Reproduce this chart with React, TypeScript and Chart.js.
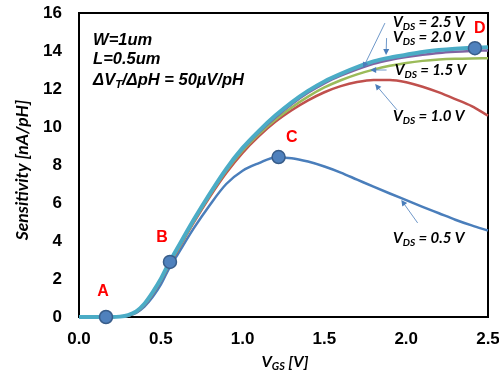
import React, { useEffect, useRef } from "react";
import { Chart, registerables } from "chart.js";
Chart.register(...registerables);

// Gate voltage grid (V)
const vgs = [0, 0.1, 0.2, 0.25, 0.3, 0.35, 0.4, 0.45, 0.5, 0.55, 0.6, 0.7, 0.8, 0.9, 1.0, 1.1, 1.2, 1.3, 1.4, 1.5, 1.6, 1.7, 1.8, 1.9, 2.0, 2.1, 2.2, 2.3, 2.4, 2.5];

// Sensitivity (nA/pH) per drain voltage
const vds25 = [0, 0, 0, 0.02, 0.1, 0.3, 0.7, 1.3, 2.0, 2.85, 3.6, 5.1, 6.5, 7.8, 8.9, 9.8, 10.6, 11.3, 11.9, 12.4, 12.8, 13.15, 13.45, 13.65, 13.8, 13.95, 14.05, 14.12, 14.17, 14.2];
const vds20 = [0, 0, 0, 0.02, 0.09, 0.29, 0.68, 1.27, 1.97, 2.8, 3.55, 5.05, 6.45, 7.74, 8.83, 9.72, 10.5, 11.2, 11.8, 12.3, 12.7, 13.04, 13.33, 13.53, 13.68, 13.8, 13.9, 13.96, 14.0, 14.03];
const vds15 = [0, 0, 0, 0.02, 0.08, 0.27, 0.66, 1.24, 1.94, 2.76, 3.5, 5.0, 6.4, 7.68, 8.75, 9.63, 10.38, 11.03, 11.6, 12.08, 12.46, 12.77, 13.02, 13.22, 13.37, 13.48, 13.55, 13.59, 13.61, 13.62];
const vds10 = [0, 0, 0, 0.02, 0.07, 0.25, 0.63, 1.2, 1.9, 2.72, 3.46, 4.95, 6.33, 7.58, 8.64, 9.52, 10.27, 10.88, 11.4, 11.83, 12.15, 12.37, 12.48, 12.48, 12.36, 12.12, 11.82, 11.47, 11.1, 10.6];
const vds05 = [0, 0, 0, 0.02, 0.07, 0.22, 0.55, 1.05, 1.7, 2.55, 3.25, 4.65, 5.9, 7.0, 7.7, 8.1, 8.4, 8.36, 8.18, 7.92, 7.6, 7.23, 6.86, 6.5, 6.15, 5.8, 5.46, 5.12, 4.82, 4.55];

// Marked operating points A–D
const markNames = ["A", "B", "C", "D"];
const markX = [0.165, 0.556, 1.22, 2.42];
const markY = [0, 2.9, 8.42, 14.15];
const markLabelX = [0.147, 0.507, 1.3, 2.45];
const markLabelY = [1.32, 4.2, 9.42, 15.2];

// Curve labels (data coordinates) and their arrows
const curveLabels = ["2.5", "2.0", "1.5", "1.0", "0.5"];
const curveLabelX = [1.92, 1.92, 1.93, 1.92, 1.92];
const curveLabelY = [15.53, 14.74, 13.0, 10.58, 4.16];
const arrowFromX = [1.87, 1.88, 1.88, 1.944, 2.07];
const arrowFromY = [15.47, 14.68, 13.0, 10.9, 4.95];
const arrowToX = [1.736, 1.877, 1.78, 1.81, 1.97];
const arrowToY = [13.1, 13.79, 13.0, 12.26, 6.16];

const xTicks = [0, 0.5, 1.0, 1.5, 2.0, 2.5];
const yTicks = [0, 2, 4, 6, 8, 10, 12, 14, 16];

type Part = { t: string; sub?: boolean };

function drawRich(ctx: CanvasRenderingContext2D, parts: Part[], x: number, y: number, size: number, family: string, align: "left" | "center" = "left") {
  const widths = parts.map((p) => {
    ctx.font = `italic bold ${p.sub ? size * 0.68 : size}px ${family}`;
    return ctx.measureText(p.t).width;
  });
  const total = widths.reduce((a, b) => a + b, 0);
  let cx = align === "center" ? x - total / 2 : x;
  ctx.textAlign = "left";
  ctx.textBaseline = "middle";
  parts.forEach((p, i) => {
    ctx.font = `italic bold ${p.sub ? size * 0.68 : size}px ${family}`;
    ctx.fillText(p.t, cx, y + (p.sub ? size * 0.3 : 0));
    cx += widths[i];
  });
}

function drawArrow(ctx: CanvasRenderingContext2D, x1: number, y1: number, x2: number, y2: number) {
  const ang = Math.atan2(y2 - y1, x2 - x1);
  const len = 6;
  ctx.strokeStyle = "#4A7EBB";
  ctx.fillStyle = "#4A7EBB";
  ctx.lineWidth = 0.8;
  ctx.beginPath();
  ctx.moveTo(x1, y1);
  ctx.lineTo(x2 - Math.cos(ang) * len * 0.8, y2 - Math.sin(ang) * len * 0.8);
  ctx.stroke();
  ctx.beginPath();
  ctx.moveTo(x2, y2);
  ctx.lineTo(x2 - len * Math.cos(ang) + 3 * Math.sin(ang), y2 - len * Math.sin(ang) - 3 * Math.cos(ang));
  ctx.lineTo(x2 - len * Math.cos(ang) - 3 * Math.sin(ang), y2 - len * Math.sin(ang) + 3 * Math.cos(ang));
  ctx.closePath();
  ctx.fill();
}

const framePlugin = {
  id: "frame",
  beforeDatasetsDraw(chart: any) {
    const { ctx, chartArea: a } = chart;
    ctx.save();
    ctx.strokeStyle = "#000";
    ctx.lineWidth = 2;
    ctx.strokeRect(a.left, a.top, a.right - a.left, a.bottom - a.top);
    ctx.restore();
  },
  afterDraw(chart: any) {
    const { ctx } = chart;
    const xs = chart.scales.x;
    const ys = chart.scales.y;
    const px = (v: number) => xs.getPixelForValue(v);
    const py = (v: number) => ys.getPixelForValue(v);
    ctx.save();
    ctx.fillStyle = "#000";
    ctx.textAlign = "left";
    ctx.textBaseline = "middle";
    const arial = "'Liberation Sans', Arial, sans-serif";
    ctx.font = `italic bold 16.5px ${arial}`;
    ctx.fillText("W=1um", px(0.086), py(14.58));
    ctx.fillText("L=0.5um", px(0.086), py(13.53));
    drawRich(ctx, [{ t: "ΔV" }, { t: "T", sub: true }, { t: "/ΔpH = 50µV/pH" }], px(0.086), py(12.47), 16.5, arial);

    for (let i = 0; i < curveLabels.length; i++) {
      drawArrow(ctx, px(arrowFromX[i]), py(arrowFromY[i]), px(arrowToX[i]), py(arrowToY[i]));
    }
    ctx.fillStyle = "#000";
    for (let i = 0; i < curveLabels.length; i++) {
      drawRich(ctx, [{ t: "V" }, { t: "DS", sub: true }, { t: ` = ${curveLabels[i]} V` }], px(curveLabelX[i]), py(curveLabelY[i]), 15, "Lato, sans-serif");
    }
    ctx.fillStyle = "#FF0000";
    ctx.font = `bold 16px ${arial}`;
    ctx.textAlign = "center";
    ctx.textBaseline = "middle";
    for (let i = 0; i < markNames.length; i++) {
      ctx.fillText(markNames[i], px(markLabelX[i]), py(markLabelY[i]));
    }
    ctx.fillStyle = "#000";
    drawRich(ctx, [{ t: "V" }, { t: "GS", sub: true }, { t: " [V]" }], 285, 362, 16, "Lato, sans-serif", "center");
    ctx.save();
    ctx.translate(22, 170);
    ctx.rotate(-Math.PI / 2);
    ctx.font = "italic bold 17.5px Lato, sans-serif";
    ctx.textAlign = "center";
    ctx.textBaseline = "middle";
    ctx.fillText("Sensitivity [nA/pH]", 0, 0);
    ctx.restore();
    ctx.restore();
  },
};

const colors = {
  v25: "#4BACC6",
  v20: "#8064A2",
  v15: "#9BBB59",
  v10: "#C0504D",
  v05: "#4A7EBB",
};

export default function App() {
  const ref = useRef<HTMLCanvasElement>(null);
  useEffect(() => {
    document.body.style.margin = "0";
    const toPts = (ys: number[]) => vgs.map((x, i) => ({ x, y: ys[i] }));
    const line = (label: string, ys: number[], color: string, w: number) => ({
      label,
      data: toPts(ys),
      borderColor: color,
      backgroundColor: color,
      borderWidth: w,
      pointRadius: 0,
      showLine: true,
      cubicInterpolationMode: "monotone" as const,
      clip: false as const,
    });
    const chart = new Chart(ref.current!, {
      type: "scatter",
      data: {
        datasets: [
          {
            label: "points",
            data: markX.map((x, i) => ({ x, y: markY[i] })),
            pointRadius: 6.5,
            pointBackgroundColor: "#4F81BD",
            pointBorderColor: "#385D8A",
            pointBorderWidth: 1.5,
            showLine: false,
            clip: false as const,
          },
          line("VDS = 2.5 V", vds25, colors.v25, 4),
          line("VDS = 2.0 V", vds20, colors.v20, 2.5),
          line("VDS = 1.5 V", vds15, colors.v15, 2.5),
          line("VDS = 1.0 V", vds10, colors.v10, 2.5),
          line("VDS = 0.5 V", vds05, colors.v05, 2.5),
        ] as any,
      },
      options: {
        animation: false,
        responsive: true,
        maintainAspectRatio: false,
        layout: { padding: { top: 13, right: 11, left: 0, bottom: 0 } },
        plugins: { legend: { display: false }, tooltip: { enabled: false } },
        scales: {
          x: {
            type: "linear",
            min: 0,
            max: 2.5,
            grid: { display: false, drawTicks: false },
            border: { display: false },
            afterBuildTicks: (s: any) => {
              s.ticks = xTicks.map((v) => ({ value: v }));
            },
            afterFit: (s: any) => {
              s.height = 62;
              s.paddingLeft = 0;
              s.paddingRight = 0;
            },
            ticks: {
              padding: 12,
              color: "#000",
              font: { family: "'Liberation Sans', Arial, sans-serif", weight: "bold", size: 17 },
              callback: (v: any) => Number(v).toFixed(1),
              maxRotation: 0,
            },
          },
          y: {
            type: "linear",
            min: 0,
            max: 16,
            grid: { display: false, drawTicks: false },
            border: { display: false },
            afterBuildTicks: (s: any) => {
              s.ticks = yTicks.map((v) => ({ value: v }));
            },
            afterFit: (s: any) => {
              s.width = 79;
              s.paddingTop = 0;
              s.paddingBottom = 0;
            },
            ticks: {
              padding: 17,
              color: "#000",
              font: { family: "'Liberation Sans', Arial, sans-serif", weight: "bold", size: 17 },
            },
          },
        },
      },
      plugins: [framePlugin],
    });
    return () => chart.destroy();
  }, []);
  return (
    <div style={{ width: 499, height: 379, position: "relative" }}>
      <canvas ref={ref} />
    </div>
  );
}
